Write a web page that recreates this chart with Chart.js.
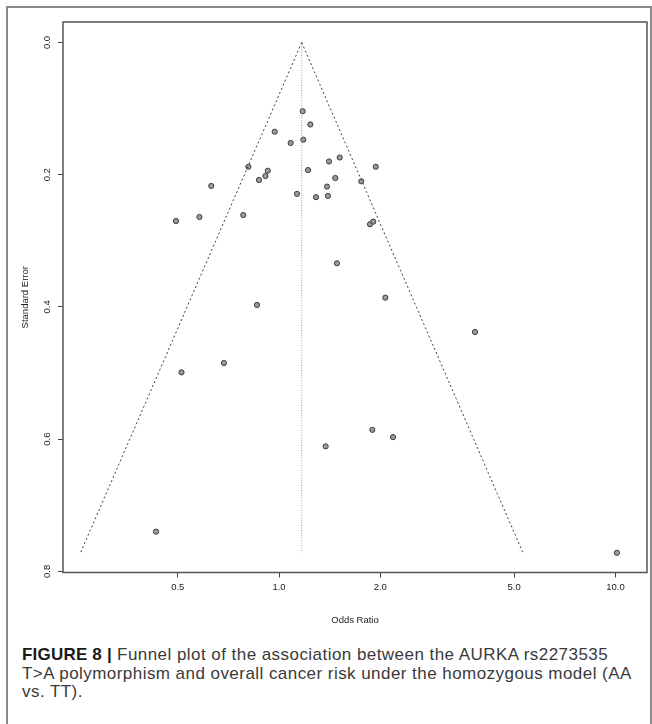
<!DOCTYPE html>
<html>
<head>
<meta charset="utf-8">
<script src="https://cdn.jsdelivr.net/npm/chart.js@4.4.1/dist/chart.umd.min.js"></script>
<style>
  body{margin:0;background:#fff;width:652px;height:724px;overflow:hidden;position:relative;font-family:"Liberation Sans",Arial,sans-serif;}
  .frame{position:absolute;left:6px;top:6px;width:642px;height:740px;border:2px solid #8a8a8a;}
  #funnelChart{position:absolute;left:0;top:0;}
  .caption{position:absolute;left:22px;top:646px;width:625px;font-size:17px;letter-spacing:0.45px;line-height:18.5px;color:#3a3a3a;white-space:nowrap;}
  .caption b{color:#1a1a1a;letter-spacing:0.2px;}
</style>
</head>
<body>
<div class="frame"></div>
<canvas id="funnelChart" width="652" height="640"></canvas>
<div class="caption"><b>FIGURE 8 |</b> Funnel plot of the association between the AURKA rs2273535<br>T&gt;A polymorphism and overall cancer risk under the homozygous model (AA<br>vs. TT).</div>
<script>
// study estimates
const oddsRatio = [1.176,1.239,0.971,1.083,1.181,0.811,0.926,0.911,0.872,0.629,1.131,1.220,1.408,1.515,1.470,1.389,1.398,1.288,1.756,1.939,0.494,0.580,0.783,1.864,1.906,1.487,2.070,0.860,3.824,0.513,0.686,1.894,2.182,1.376,0.431,10.10];
const stdError = [0.104,0.124,0.135,0.152,0.147,0.188,0.194,0.202,0.208,0.217,0.229,0.193,0.180,0.174,0.205,0.218,0.232,0.234,0.210,0.188,0.270,0.264,0.261,0.275,0.271,0.334,0.386,0.397,0.438,0.499,0.485,0.586,0.597,0.611,0.740,0.772];

// funnel outline (pooled OR and pseudo 95% limits)
const funnelLeft = [{x:1.168,y:0},{x:0.257,y:0.772}];
const funnelRight = [{x:1.168,y:0},{x:5.31,y:0.772}];
const pooledLine = [{x:1.168,y:0},{x:1.168,y:0.772}];

const xTicks = [0.5,1,2,5,10];
const yTicks = [0,0.2,0.4,0.6,0.8];

const points = oddsRatio.map((v,i) => ({x:v, y:stdError[i]}));

// box round the plot region
const boxPlugin = {
    id:'box',
    afterDraw(chart){
        const {ctx, chartArea:{left,top,right,bottom}} = chart;
        ctx.save();
        ctx.strokeStyle = '#555';
        ctx.lineWidth = 1.5;
        ctx.strokeRect(left,top,right-left,bottom-top);
        ctx.restore();
    }
};

const tickFont = {family:'"Liberation Sans", Arial, sans-serif', size:9.5};

const config = {
    type:'scatter',
    data:{
        datasets:[
            {data:funnelLeft, showLine:true, pointRadius:0, borderColor:'#404040', borderWidth:1, borderDash:[2,2.5]},
            {data:funnelRight, showLine:true, pointRadius:0, borderColor:'#404040', borderWidth:1, borderDash:[2,2.5]},
            {data:pooledLine, showLine:true, pointRadius:0, borderColor:'#9a9a9a', borderWidth:1, borderDash:[1,1.5]},
            {data:points, pointRadius:2.6, backgroundColor:'#9a9a9a', borderColor:'#3c3c3c', borderWidth:1}
        ]
    },
    options:{
        responsive:false,
        animation:false,
        devicePixelRatio:1,
        layout:{padding:{left:0, top:22, right:5, bottom:0}},
        plugins:{legend:{display:false}, tooltip:{enabled:false}},
        scales:{
            x:{
                type:'logarithmic',
                min:0.228,
                max:12.41,
                afterBuildTicks: s => { s.ticks = xTicks.map(v => ({value:v})); },
                afterFit: s => { s.height = 67.5; },
                grid:{drawOnChartArea:false, tickLength:5, color:'#444'},
                border:{display:false},
                ticks:{font:tickFont, color:'#222', padding:4, maxRotation:0, callback: v => Number(v).toFixed(1)},
                title:{display:true, text:'Odds Ratio', font:tickFont, color:'#222', padding:{top:0, bottom:13.5}}
            },
            y:{
                reverse:true,
                min:-0.031,
                max:0.8018,
                afterBuildTicks: s => { s.ticks = yTicks.map(v => ({value:v})); },
                afterFit: s => { s.width = 63; },
                grid:{drawOnChartArea:false, tickLength:5, color:'#444'},
                border:{display:false},
                ticks:{font:tickFont, color:'#222', padding:4, minRotation:90, maxRotation:90, crossAlign:'center', callback: v => Number(v).toFixed(1)},
                title:{display:true, text:'Standard Error', font:tickFont, color:'#222', padding:{top:20, bottom:0}}
            }
        }
    },
    plugins:[boxPlugin]
};

// render init block
const funnelChart = new Chart(
    document.getElementById('funnelChart'),
    config
);
</script>
</body>
</html>
